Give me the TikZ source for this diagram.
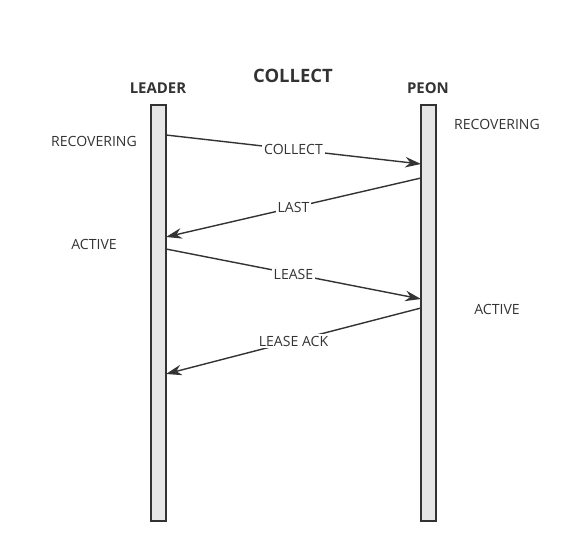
\documentclass[tikz,border=0pt]{standalone}
\usepackage{fontspec}
\setmainfont{Open Sans}
\usetikzlibrary{arrows.meta}
\definecolor{linegray}{HTML}{333333}
\definecolor{barfill}{HTML}{E6E6E6}

\begin{document}
\begin{tikzpicture}[x=0.02cm,y=-0.02cm,font=\fontsize{8}{9}\selectfont]
\useasboundingbox (0,0) rectangle (575,554);
\begin{scope}[every node/.style={rectangle,draw=linegray,fill=barfill,thick,
              minimum width=0.3cm,minimum height=8.32cm,inner sep=0pt}]
    \node (leader) at (158.5,313) {};
    \node (peon) at (428.5,313) {};
\end{scope}
\begin{scope}[every node/.style={text=linegray,font=\fontsize{8.5}{10}\selectfont\bfseries}]
    \node (title) at (293,76) {\fontsize{10.5}{12}\selectfont COLLECT};
    \node (leadername) at (158,88) {LEADER};
    \node (peonname) at (428,88) {PEON};
\end{scope}
\begin{scope}[every node/.style={text=linegray}]
    \node (lrec) at (94,141) {RECOVERING};
    \node (prec) at (497,124) {RECOVERING};
    \node (lact) at (94,244) {ACTIVE};
    \node (pact) at (497,309) {ACTIVE};
\end{scope}
% ends of the messages
\coordinate (m1a) at (166,135);
\coordinate (m1b) at (421,164);
\coordinate (m2a) at (421,178);
\coordinate (m2b) at (166,237);
\coordinate (m3a) at (166,249);
\coordinate (m3b) at (421,299);
\coordinate (m4a) at (421,308);
\coordinate (m4b) at (166,374);
\begin{scope}[>={Stealth[length=9pt,width=6pt]},
              every edge/.style={draw=linegray,thick},
              every node/.style={fill=white,text=linegray,inner sep=1pt}]
    \path [->] (m1a) edge node {COLLECT} (m1b);
    \path [->] (m2a) edge node {LAST} (m2b);
    \path [->] (m3a) edge node {LEASE} (m3b);
    \path [->] (m4a) edge node {LEASE ACK} (m4b);
\end{scope}
\end{tikzpicture}
\end{document}
